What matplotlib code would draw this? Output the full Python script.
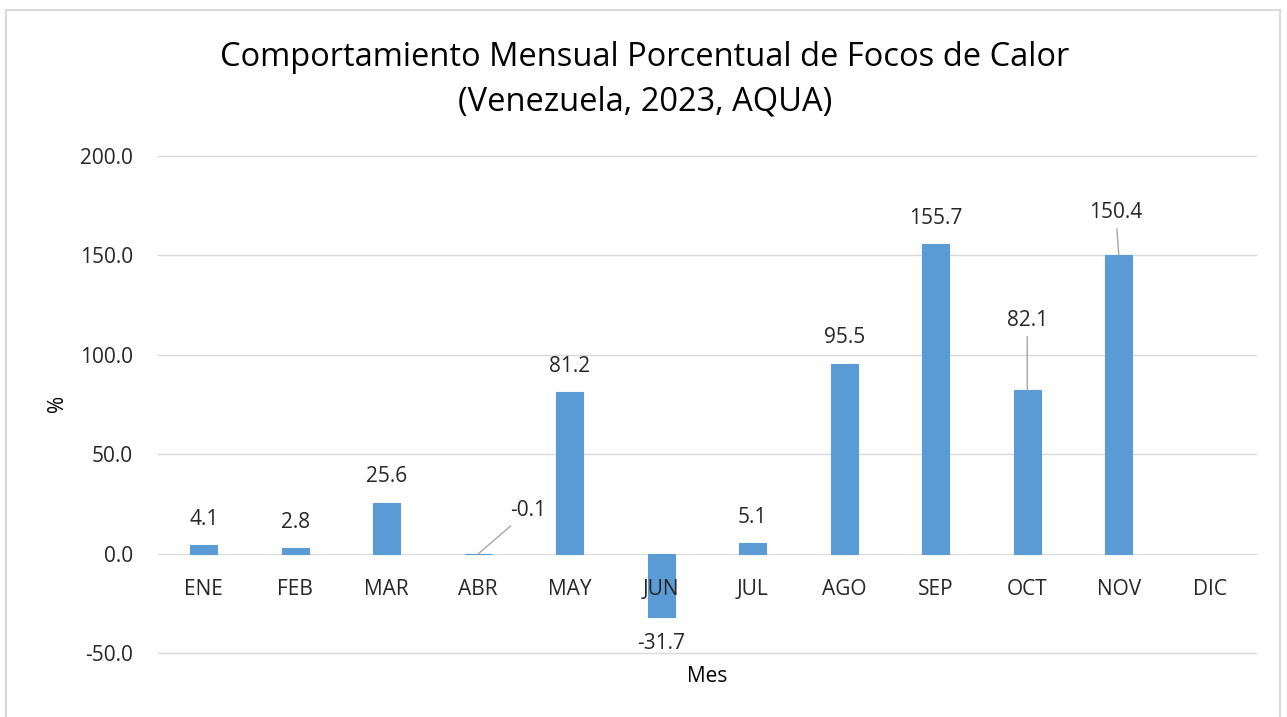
import matplotlib
matplotlib.use("Agg")
import matplotlib.pyplot as plt
from matplotlib.patches import Rectangle

# ---- data ------------------------------------------------------------
meses = ["ENE", "FEB", "MAR", "ABR", "MAY", "JUN", "JUL", "AGO", "SEP", "OCT", "NOV", "DIC"]
valores = [4.1, 2.8, 25.6, -0.1, 81.2, -31.7, 5.1, 95.5, 155.7, 82.1, 150.4, None]
etiquetas = ["4.1", "2.8", "25.6", "-0.1", "81.2", "-31.7", "5.1", "95.5", "155.7", "82.1", "150.4", ""]
yticks = [-50, 0, 50, 100, 150, 200]

# labels that Excel moved away and tied to the bar with a leader line (offset in px)
leader = {"ABR": (50, 43), "OCT": (0, 70), "NOV": (-3, 42)}

plt.rcParams["font.family"] = ["Open Sans", "DejaVu Sans"]
color_bar = "#5B9BD5"
color_txt = "#262626"
color_grid = "#D9D9D9"
fs = 15

fig = plt.figure(figsize=(12.87, 7.17), dpi=100)
ax = fig.add_axes([158 / 1287, 1 - 653 / 717, (1256 - 158) / 1287, (653 - 156) / 717])

# chart border
fig.patches.append(Rectangle((6 / 1287, -0.01), 1274 / 1287, 1 - 10 / 717 + 0.01,
                             transform=fig.transFigure, fill=False,
                             edgecolor="#D9D9D9", linewidth=1.5))

for s in ["top", "right", "left"]:
    ax.spines[s].set_visible(False)
ax.spines["bottom"].set_position(("data", 0))
ax.spines["bottom"].set_color(color_grid)
ax.spines["bottom"].set_zorder(2)

# ---- bars (months without data are skipped) ----------------------------
x = list(range(len(meses)))
bx = [xi for xi, v in zip(x, valores) if v is not None]
bh = [v for v in valores if v is not None]
ax.bar(bx, bh, width=0.3, color=color_bar, edgecolor=color_bar, linewidth=0.8, zorder=3)

ax.set_xlim(-0.5, len(meses) - 0.5)
ax.set_ylim(-50, 200)
ax.set_yticks(yticks)
ax.set_yticklabels([f"{t:.1f}" for t in yticks], fontsize=fs, color=color_txt)
ax.set_xticks(x)
ax.set_xticklabels(meses, fontsize=fs, color=color_txt)
ax.tick_params(axis="y", length=0, pad=18)
ax.tick_params(axis="x", length=0, pad=18)
for t in yticks:
    if t != 0:
        ax.axhline(t, color=color_grid, linewidth=1, zorder=0, clip_on=False)
ax.xaxis.set_zorder(5)

# ---- data labels -------------------------------------------------------
for xi, m, v, lab in zip(x, meses, valores, etiquetas):
    if v is None:
        continue
    if m in leader:
        dx, dy = leader[m]
        ax.annotate(lab, xy=(xi, v), xytext=(dx, dy), textcoords="offset pixels",
                    ha="center", va="center", fontsize=fs, color=color_txt,
                    arrowprops=dict(arrowstyle="-", color="#A6A6A6", lw=1,
                                    shrinkA=2, shrinkB=0))
    elif v >= 0:
        ax.annotate(lab, xy=(xi, v), xytext=(0, 26), textcoords="offset pixels",
                    ha="center", va="center", fontsize=fs, color=color_txt)
    else:
        ax.annotate(lab, xy=(xi, v), xytext=(0, -27), textcoords="offset pixels",
                    ha="center", va="center", fontsize=fs, color=color_txt)

fig.text(645 / 1287, 1 - 80 / 717, "Comportamiento Mensual Porcentual de Focos de Calor\n(Venezuela, 2023, AQUA)",
         ha="center", va="center", fontsize=23.5, color="black", linespacing=1.45)
fig.text(57 / 1287, 1 - 403 / 717, "%", rotation=90, ha="center", va="center",
         fontsize=fs, color="black")
fig.text(707 / 1287, 1 - 677 / 717, "Mes", ha="center", va="center", fontsize=fs, color="black")

fig.savefig("out.png", dpi=100)
